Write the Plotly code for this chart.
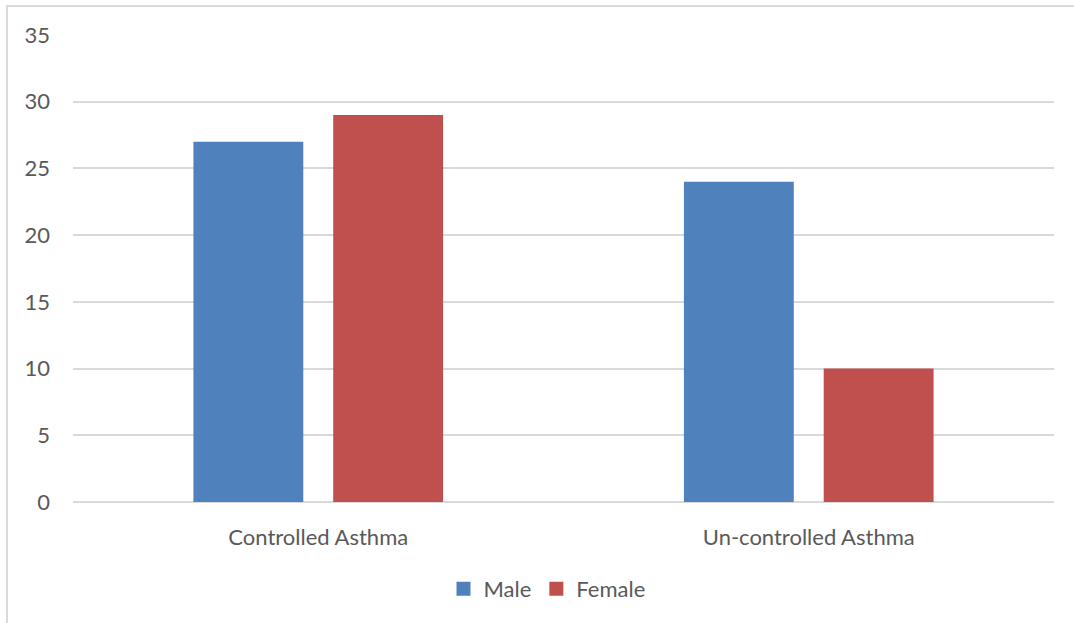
import plotly.graph_objects as go

categories = ["Controlled Asthma", "Un-controlled Asthma"]
male = [27, 24]
female = [29, 10]
y_ticks = [0, 5, 10, 15, 20, 25, 30, 35]
series_colors = {"Male": "#4F81BD", "Female": "#C0504D"}

W, H = 1074, 623
L, R, T, B = 73, 20, 35, 121
pw, ph = W - L - R, H - T - B

def px_x(x):
    return (x - L) / pw

def px_y(y):
    return (H - B - y) / ph

font = dict(family="Lato, Open Sans, sans-serif", size=22, color="#595959")

fig = go.Figure()
fig.add_trace(go.Bar(name="Male", x=categories, y=male, showlegend=False,
                     marker=dict(color=series_colors["Male"], line=dict(width=0))))
fig.add_trace(go.Bar(name="Female", x=categories, y=female, showlegend=False,
                     marker=dict(color=series_colors["Female"], line=dict(width=0))))

# legend entries with larger square swatches
for name, col in series_colors.items():
    fig.add_trace(go.Scatter(name=name, x=[None], y=[None], mode="markers",
                             marker=dict(symbol="square", size=14, color=col)))

border = dict(color="#d9d9d9", width=2)
fig.add_shape(type="line", xref="paper", yref="paper",
              x0=px_x(6), x1=px_x(W + 2), y0=px_y(6), y1=px_y(6), line=border, layer="above")
fig.add_shape(type="line", xref="paper", yref="paper",
              x0=px_x(7), x1=px_x(7), y0=px_y(6), y1=px_y(H + 2), line=border, layer="above")

fig.update_layout(
    width=W, height=H,
    margin=dict(l=L, r=R, t=T, b=B),
    paper_bgcolor="white", plot_bgcolor="white",
    barmode="group", bargap=0.43, bargroupgap=0.214,
    font=font,
    showlegend=True,
    legend=dict(orientation="h", x=px_x(547), xanchor="center", y=px_y(589), yanchor="middle",
                font=font, itemwidth=30, tracegroupgap=0),
    xaxis=dict(showgrid=False, showline=False, ticks="", tickfont=font, ticklabelstandoff=20),
    yaxis=dict(range=[0, 35], tickvals=y_ticks, showgrid=True, gridcolor="#d9d9d9", gridwidth=1.5,
               zeroline=True, zerolinecolor="#d9d9d9", zerolinewidth=1.5,
               showline=False, ticks="", tickfont=font, ticklabelstandoff=22),
)

fig.write_html("out.html")
